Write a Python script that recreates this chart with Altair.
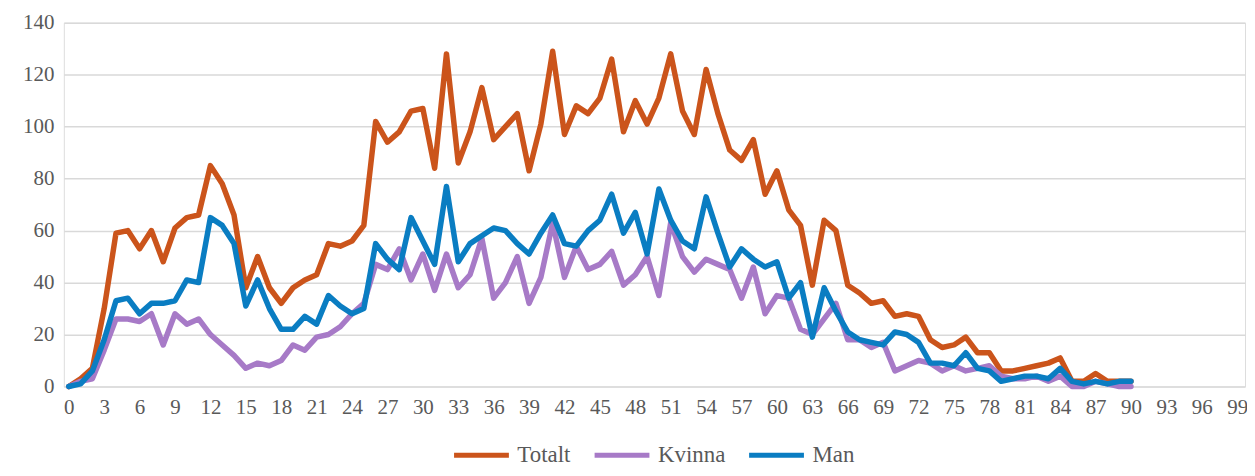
import altair as alt
import pandas as pd

ages = list(range(0, 91))

totalt = [0, 3, 7, 30, 59, 60, 53, 60, 48, 61, 65, 66, 85, 78, 66, 38, 50, 38, 32, 38,
          41, 43, 55, 54, 56, 62, 102, 94, 98, 106, 107, 84, 128, 86, 98, 115, 95, 100, 105, 83,
          101, 129, 97, 108, 105, 111, 126, 98, 110, 101, 111, 128, 106, 97, 122, 105, 91, 87, 95, 74,
          83, 68, 62, 39, 64, 60, 39, 36, 32, 33, 27, 28, 27, 18, 15, 16, 19, 13, 13, 6,
          6, 7, 8, 9, 11, 2, 2, 5, 2, 2, 2]
kvinna = [0, 2, 3, 14, 26, 26, 25, 28, 16, 28, 24, 26, 20, 16, 12, 7, 9, 8, 10, 16,
          14, 19, 20, 23, 28, 32, 47, 45, 53, 41, 51, 37, 51, 38, 43, 57, 34, 40, 50, 32,
          42, 63, 42, 54, 45, 47, 52, 39, 43, 50, 35, 63, 50, 44, 49, 47, 45, 34, 46, 28,
          35, 34, 22, 20, 26, 32, 18, 18, 15, 17, 6, 8, 10, 9, 6, 8, 6, 7, 8, 4,
          3, 3, 4, 2, 4, 0, 0, 2, 1, 0, 0]
man = [0, 1, 6, 18, 33, 34, 28, 32, 32, 33, 41, 40, 65, 62, 55, 31, 41, 30, 22, 22,
       27, 24, 35, 31, 28, 30, 55, 49, 45, 65, 56, 47, 77, 48, 55, 58, 61, 60, 55, 51,
       59, 66, 55, 54, 60, 64, 74, 59, 67, 51, 76, 64, 56, 53, 73, 59, 46, 53, 49, 46,
       48, 34, 40, 19, 38, 29, 21, 18, 17, 16, 21, 20, 17, 9, 9, 8, 13, 7, 6, 2,
       3, 4, 4, 3, 7, 2, 1, 2, 1, 2, 2]

series_names = ["Totalt", "Kvinna", "Man"]
series_colors = ["#CB541B", "#A77AC7", "#0A7DC2"]
x_ticks = list(range(0, 100, 3))
y_ticks = list(range(0, 141, 20))

rows = []
for name, vals in zip(series_names, [totalt, kvinna, man]):
    for a, v in zip(ages, vals):
        rows.append({"age": a, "value": v, "serie": name, "order": series_names.index(name)})
df = pd.DataFrame(rows)

font = "Liberation Serif, Times New Roman, DejaVu Serif, serif"

chart = alt.Chart(df).mark_line(strokeWidth=5.5, strokeJoin="round", strokeCap="round").encode(
    x=alt.X("age:Q",
            scale=alt.Scale(domain=[-0.42, 99.66], nice=False, zero=False),
            axis=alt.Axis(values=x_ticks, title=None, grid=False, ticks=False, domain=False,
                          labelFont=font, labelFontSize=21, labelColor="#595959",
                          labelPadding=10, labelFlush=False, labelOverlap=False)),
    y=alt.Y("value:Q",
            scale=alt.Scale(domain=[0, 140], nice=False),
            axis=alt.Axis(values=y_ticks, title=None, ticks=False, domain=False,
                          gridColor="#D9D9D9", gridWidth=1.5,
                          labelFont=font, labelFontSize=21, labelColor="#595959",
                          labelPadding=10)),
    color=alt.Color("serie:N",
                    scale=alt.Scale(domain=series_names, range=series_colors),
                    legend=alt.Legend(title=None, orient="none", direction="horizontal",
                                      legendX=389, legendY=404,
                                      symbolType="stroke", symbolSize=3025, symbolStrokeWidth=5,
                                      labelFont=font, labelFontSize=23, labelColor="#595959",
                                      labelOffset=6, columnPadding=13)),
    order=alt.Order("order:Q"),
).properties(
    width=1185, height=365,
    autosize=alt.AutoSizeParams(type="none"),
    padding={"left": 56, "top": 14, "right": 2, "bottom": 81},
).configure_view(stroke=None).configure(font=font)

chart.save("out.html", embed_options={"renderer": "svg", "actions": False})
